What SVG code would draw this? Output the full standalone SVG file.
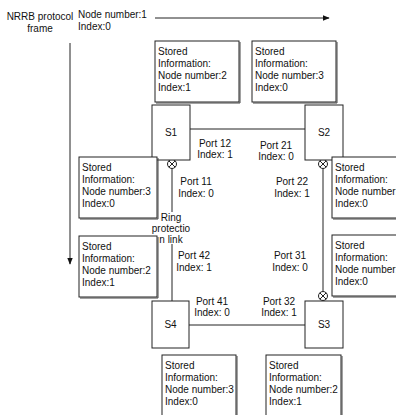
<svg xmlns="http://www.w3.org/2000/svg" width="396" height="415" viewBox="0 0 396 415">
  <style>
    text { font-family: "Liberation Sans", Arial, sans-serif; font-size: 10px; fill: #111; }
    .c { text-anchor: middle; }
    .box { fill: #fff; stroke: #222; stroke-width: 1; }
    .shadow { fill: none; stroke: #444; stroke-width: 1; }
    .sw { fill: #fff; stroke: #222; stroke-width: 1; }
    .ln { stroke: #222; stroke-width: 1; fill: none; }
    .port { fill: #fff; stroke: #222; stroke-width: 1; }
  </style>
  <defs>
    <marker id="arrow" viewBox="0 0 10 10" refX="9" refY="5" markerWidth="7" markerHeight="7" orient="auto" markerUnits="userSpaceOnUse">
      <path d="M0,1 L10,5 L0,9 z" fill="#111"/>
    </marker>
    <g id="portmark">
      <circle r="4.5" class="port"/>
      <path d="M-3.2,-3.2 L3.2,3.2 M-3.2,3.2 L3.2,-3.2" class="ln"/>
    </g>
  </defs>

  <rect width="396" height="415" fill="#fff"/>

  <!-- protocol frame legend -->
  <g id="legend">
    <text class="c" x="40" y="20">NRRB protocol</text>
    <text class="c" x="40" y="32">frame</text>
    <text x="78" y="18">Node number:1</text>
    <text x="78" y="30">Index:0</text>
  </g>

  <!-- connectors -->
  <g id="connectors">
    <line class="ln" x1="155" y1="18" x2="329" y2="18" marker-end="url(#arrow)"/>
    <line class="ln" x1="70" y1="43" x2="70" y2="264" marker-end="url(#arrow)"/>
    <line class="ln" x1="190" y1="129" x2="305" y2="129"/>
    <line class="ln" x1="189" y1="325" x2="305" y2="325"/>
    <line class="ln" x1="172" y1="168.5" x2="172" y2="212"/>
    <line class="ln" x1="172" y1="244" x2="172" y2="301"/>
    <line class="ln" x1="323" y1="168.5" x2="323" y2="291.5"/>
    <use href="#portmark" x="172" y="164"/>
    <use href="#portmark" x="323" y="164"/>
    <use href="#portmark" x="323" y="296"/>
  </g>

  <!-- switches -->
  <g id="S1"><rect class="sw" x="152" y="105" width="38" height="55"/><text class="c" x="171" y="136">S1</text></g>
  <g id="S2"><rect class="sw" x="305" y="105" width="38" height="55"/><text class="c" x="324" y="136">S2</text></g>
  <g id="S4"><rect class="sw" x="152" y="301" width="37" height="47"/><text class="c" x="170.5" y="328">S4</text></g>
  <g id="S3"><rect class="sw" x="305" y="301" width="38" height="47"/><text class="c" x="324" y="328">S3</text></g>

  <!-- port labels -->
  <g id="ports">
    <text class="c" x="215" y="147">Port 12</text>
    <text class="c" x="215" y="158">Index:  1</text>
    <text class="c" x="276" y="149">Port 21</text>
    <text class="c" x="276" y="160">Index:  0</text>
    <text class="c" x="196" y="185">Port 11</text>
    <text class="c" x="196" y="197">Index:  0</text>
    <text class="c" x="292" y="185">Port 22</text>
    <text class="c" x="292" y="197">Index:  1</text>
    <text class="c" x="194" y="259">Port 42</text>
    <text class="c" x="194" y="271">Index:  1</text>
    <text class="c" x="290" y="259">Port 31</text>
    <text class="c" x="290" y="271">Index:  0</text>
    <text class="c" x="212" y="305">Port 41</text>
    <text class="c" x="212" y="316">Index:  0</text>
    <text class="c" x="279" y="305">Port 32</text>
    <text class="c" x="279" y="316">Index:  1</text>
  </g>

  <!-- ring protection link label -->
  <g id="rpl">
    <text class="c" x="171" y="221">Ring</text>
    <text class="c" x="171" y="232">protectio</text>
    <text class="c" x="171" y="243">n link</text>
  </g>

  <!-- stored information boxes -->
  <g id="info-s1">
    <rect class="box" x="155" y="41" width="84" height="61"/>
    <path class="shadow" d="M240,42 V103 H156"/>
    <text x="158" y="55">Stored</text><text x="158" y="67">Information:</text>
    <text x="158" y="79">Node number:2</text><text x="158" y="91">Index:1</text>
  </g>
  <g id="info-s2">
    <rect class="box" x="252" y="41" width="84" height="61"/>
    <path class="shadow" d="M337,42 V103 H253"/>
    <text x="255" y="55">Stored</text><text x="255" y="67">Information:</text>
    <text x="255" y="79">Node number:3</text><text x="255" y="91">Index:0</text>
  </g>
  <g id="info-left-1">
    <rect class="box" x="79" y="157" width="78" height="61"/>
    <path class="shadow" d="M158,158 V219 H80"/>
    <text x="82" y="171">Stored</text><text x="82" y="183">Information:</text>
    <text x="82" y="195">Node number:3</text><text x="82" y="207">Index:0</text>
  </g>
  <g id="info-left-2">
    <rect class="box" x="79" y="236" width="78" height="61"/>
    <path class="shadow" d="M158,237 V298 H80"/>
    <text x="82" y="250">Stored</text><text x="82" y="262">Information:</text>
    <text x="82" y="274">Node number:2</text><text x="82" y="286">Index:1</text>
  </g>
  <g id="info-right-1">
    <rect class="box" x="332" y="157" width="80" height="61"/>
    <path class="shadow" d="M413,158 V219 H333"/>
    <text x="335" y="171">Stored</text><text x="335" y="183">Information:</text>
    <text x="335" y="195">Node number:3</text><text x="335" y="207">Index:0</text>
  </g>
  <g id="info-right-2">
    <rect class="box" x="332" y="235" width="80" height="61"/>
    <path class="shadow" d="M413,236 V297 H333"/>
    <text x="335" y="249">Stored</text><text x="335" y="261">Information:</text>
    <text x="335" y="273">Node number:3</text><text x="335" y="285">Index:0</text>
  </g>
  <g id="info-s4">
    <rect class="box" x="162" y="355" width="74" height="70"/>
    <path class="shadow" d="M237,356 V425"/>
    <text x="165" y="369">Stored</text><text x="165" y="381">Information:</text>
    <text x="165" y="393">Node number:3</text><text x="165" y="405">Index:0</text>
  </g>
  <g id="info-s3">
    <rect class="box" x="266" y="355" width="75" height="70"/>
    <path class="shadow" d="M342,356 V425"/>
    <text x="269" y="369">Stored</text><text x="269" y="381">Information:</text>
    <text x="269" y="393">Node number:2</text><text x="269" y="405">Index:1</text>
  </g>
</svg>
